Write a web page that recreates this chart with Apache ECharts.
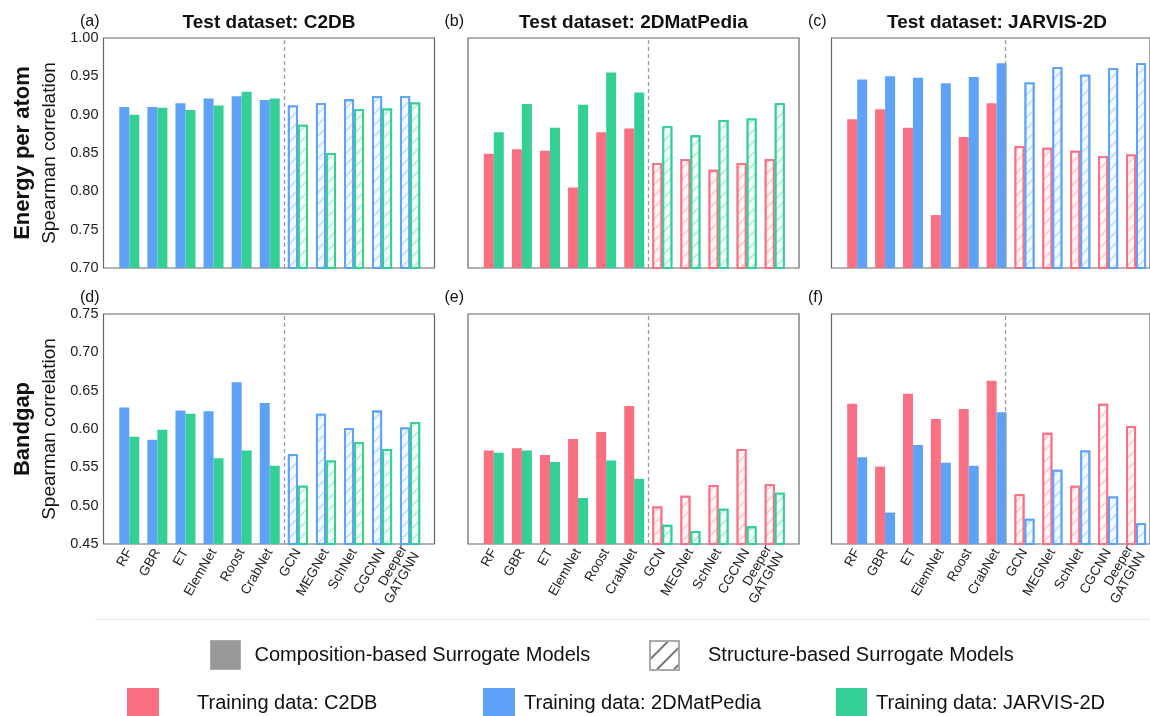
<!DOCTYPE html>
<html>
<head>
<meta charset="utf-8">
<script src="https://cdn.jsdelivr.net/npm/echarts@6/dist/echarts.min.js"></script>
<style>
    html, body { margin: 0; padding: 0; background: #fff; }
    #main { width: 1150px; height: 716px; }
</style>
</head>
<body>
<div id="main"></div>
<script>
// 模型名称
var categories = ['RF', 'GBR', 'ET', 'ElemNet', 'Roost', 'CrabNet', 'GCN', 'MEGNet', 'SchNet', 'CGCNN', 'Deeper\nGATGNN'];
var yTicksEnergy = [0.70, 1.00];
var yTicksGap = [0.45, 0.75];
// 组成模型与结构模型的分界（CrabNet 与 GCN 之间）
var dividerPos = 5.5;

// Energy per atom
var eC2dbBy2dmat = [0.910, 0.910, 0.915, 0.921, 0.924, 0.919, 0.912, 0.915, 0.920, 0.924, 0.924];
var eC2dbByJarvis = [0.900, 0.909, 0.906, 0.912, 0.930, 0.921, 0.887, 0.850, 0.907, 0.908, 0.916];
var e2dmatByC2db = [0.849, 0.855, 0.853, 0.805, 0.877, 0.882, 0.837, 0.842, 0.828, 0.837, 0.842];
var e2dmatByJarvis = [0.877, 0.914, 0.883, 0.913, 0.955, 0.929, 0.885, 0.873, 0.893, 0.895, 0.915];
var eJarvisByC2db = [0.894, 0.907, 0.883, 0.769, 0.871, 0.915, 0.859, 0.857, 0.853, 0.846, 0.848];
var eJarvisBy2dmat = [0.946, 0.950, 0.948, 0.941, 0.949, 0.967, 0.942, 0.962, 0.952, 0.961, 0.967];

// Bandgap
var gC2dbBy2dmat = [0.628, 0.586, 0.624, 0.623, 0.661, 0.634, 0.567, 0.620, 0.601, 0.624, 0.602];
var gC2dbByJarvis = [0.590, 0.599, 0.620, 0.562, 0.572, 0.552, 0.526, 0.559, 0.583, 0.574, 0.609];
var g2dmatByC2db = [0.572, 0.575, 0.566, 0.587, 0.596, 0.630, 0.499, 0.513, 0.527, 0.574, 0.528];
var g2dmatByJarvis = [0.569, 0.572, 0.557, 0.510, 0.559, 0.535, 0.475, 0.467, 0.496, 0.473, 0.517];
var gJarvisByC2db = [0.633, 0.551, 0.646, 0.613, 0.626, 0.663, 0.515, 0.595, 0.526, 0.633, 0.604];
var gJarvisBy2dmat = [0.563, 0.491, 0.579, 0.556, 0.552, 0.622, 0.483, 0.547, 0.572, 0.512, 0.477];

var colors = { 'C2DB': '#F97083', '2DMatPedia': '#5DA2F6', 'JARVIS-2D': '#33CF94' };
var fontFamily = '"Liberation Sans", Arial, sans-serif';

var panels = [
    { label: '(a)', title: 'Test dataset: C2DB', row: 0, col: 0, range: yTicksEnergy, series: [['2DMatPedia', eC2dbBy2dmat], ['JARVIS-2D', eC2dbByJarvis]] },
    { label: '(b)', title: 'Test dataset: 2DMatPedia', row: 0, col: 1, range: yTicksEnergy, series: [['C2DB', e2dmatByC2db], ['JARVIS-2D', e2dmatByJarvis]] },
    { label: '(c)', title: 'Test dataset: JARVIS-2D', row: 0, col: 2, range: yTicksEnergy, series: [['C2DB', eJarvisByC2db], ['2DMatPedia', eJarvisBy2dmat]] },
    { label: '(d)', title: '', row: 1, col: 0, range: yTicksGap, series: [['2DMatPedia', gC2dbBy2dmat], ['JARVIS-2D', gC2dbByJarvis]] },
    { label: '(e)', title: '', row: 1, col: 1, range: yTicksGap, series: [['C2DB', g2dmatByC2db], ['JARVIS-2D', g2dmatByJarvis]] },
    { label: '(f)', title: '', row: 1, col: 2, range: yTicksGap, series: [['C2DB', gJarvisByC2db], ['2DMatPedia', gJarvisBy2dmat]] }
];

var frameLeft = [103.5, 468, 831.5];
var rowTop = [38, 314];
var frameW = 331, frameH = 230;
var innerPad = 11.75, innerW = 309;
var catW = innerW / categories.length;

function hexA(hex, a) {
    var r = parseInt(hex.slice(1, 3), 16), g = parseInt(hex.slice(3, 5), 16), b = parseInt(hex.slice(5, 7), 16);
    return 'rgba(' + r + ',' + g + ',' + b + ',' + a + ')';
}

// 结构模型用斜线填充
function hatched(color, v) {
    return {
        value: v,
        itemStyle: {
            color: hexA(color, 0.06),
            borderColor: color,
            borderWidth: 1.8,
            decal: {
                symbol: 'rect',
                symbolSize: 1,
                dashArrayX: [1, 0],
                dashArrayY: [1.1, 5.5],
                rotation: -Math.PI / 4,
                color: hexA(color, 0.3)
            }
        }
    };
}

var grids = [], xAxes = [], yAxes = [], series = [], graphics = [];

panels.forEach(function(p, k) {
    var left = frameLeft[p.col], top = rowTop[p.row];
    // 外框
    grids.push({ left: left, top: top, width: frameW, height: frameH, show: true, borderColor: '#666', borderWidth: 1.2, backgroundColor: 'transparent' });
    // 数据区
    grids.push({ left: left + innerPad, top: top, width: innerW, height: frameH });

    // 外框的横轴按类别单位计，用来画分界虚线
    xAxes.push({
        gridIndex: 2 * k, type: 'value', show: false,
        min: -0.5 - innerPad / catW,
        max: categories.length - 0.5 + (frameW - innerPad - innerW) / catW
    });
    yAxes.push({
        gridIndex: 2 * k, type: 'value', min: p.range[0], max: p.range[1], interval: 0.05,
        axisLine: { show: false }, axisTick: { show: false }, splitLine: { show: false },
        axisLabel: {
            show: p.col === 0, fontSize: 14.5, color: '#222', margin: 5, fontFamily: fontFamily,
            formatter: function(v) { return v.toFixed(2); }
        }
    });

    xAxes.push({
        gridIndex: 2 * k + 1, type: 'category', data: categories,
        axisLine: { show: false }, axisTick: { show: false }, splitLine: { show: false },
        axisLabel: {
            show: p.row === 1, interval: 0, rotate: 60, fontSize: 13.5, color: '#222', margin: 6,
            fontFamily: fontFamily, lineHeight: 14
        }
    });
    yAxes.push({ gridIndex: 2 * k + 1, type: 'value', min: p.range[0], max: p.range[1], show: false });

    p.series.forEach(function(s) {
        var c = colors[s[0]];
        series.push({
            type: 'bar',
            name: 'Training data: ' + s[0],
            xAxisIndex: 2 * k + 1,
            yAxisIndex: 2 * k + 1,
            barWidth: 10,
            barGap: '0%',
            itemStyle: { color: c },
            data: s[1].map(function(v, i) { return i < 6 ? v : hatched(c, v); })
        });
    });

    series.push({
        type: 'line', xAxisIndex: 2 * k, yAxisIndex: 2 * k, data: [], silent: true,
        markLine: {
            silent: true, symbol: ['none', 'none'], animation: false,
            label: { show: false },
            lineStyle: { color: '#9a9a9a', width: 1.3, type: [4, 3] },
            data: [{ xAxis: dividerPos }]
        }
    });

    graphics.push({
        type: 'text', x: left - 23.5, y: top - 16,
        style: { text: p.label, fontSize: 16, fontFamily: fontFamily, fill: '#111', align: 'left', verticalAlign: 'middle' }
    });
    if (p.title) {
        graphics.push({
            type: 'text', x: left + frameW / 2, y: top - 15,
            style: { text: p.title, fontSize: 19, fontWeight: 'bold', fontFamily: fontFamily, fill: '#111', align: 'center', verticalAlign: 'middle' }
        });
    }
});

// 图例用的空系列
series.push({ type: 'bar', name: 'Composition-based Surrogate Models', xAxisIndex: 0, yAxisIndex: 0, data: [], itemStyle: { color: '#999' } });
series.push({ type: 'bar', name: 'Structure-based Surrogate Models', xAxisIndex: 0, yAxisIndex: 0, data: [], itemStyle: { color: '#fff', borderColor: '#aaa', borderWidth: 2 } });

// 纵轴标题
[['Energy per atom', 153], ['Bandgap', 429]].forEach(function(t) {
    graphics.push({
        type: 'text', x: 23, y: t[1], rotation: Math.PI / 2,
        style: { text: t[0], fontSize: 22, fontWeight: 'bold', fontFamily: fontFamily, fill: '#111', align: 'center', verticalAlign: 'middle' }
    });
    graphics.push({
        type: 'text', x: 50, y: t[1], rotation: Math.PI / 2,
        style: { text: 'Spearman correlation', fontSize: 19, fontFamily: fontFamily, fill: '#111', align: 'center', verticalAlign: 'middle' }
    });
});
graphics.push({ type: 'line', shape: { x1: 95, y1: 619.5, x2: 1150, y2: 619.5 }, style: { stroke: '#e4e4e4', lineWidth: 1 } });

function legendItem(name, left, top, w, h, gap, itemStyle) {
    var item = { name: name };
    if (itemStyle) item.itemStyle = itemStyle;
    return {
        data: [item], left: left, top: top, itemWidth: w, itemHeight: h, selectedMode: false,
        icon: 'rect', padding: 0,
        formatter: function(n) { return '{g|}{t|' + n + '}'; },
        textStyle: {
            rich: {
                g: { width: gap },
                t: { fontSize: 20, color: '#111', fontFamily: fontFamily }
            }
        }
    };
}

var legends = [
    legendItem('Composition-based Surrogate Models', 210, 640, 30, 29, 9, { color: '#999', borderColor: '#aaa', borderWidth: 1 }),
    legendItem('Structure-based Surrogate Models', 649, 640, 29, 29, 24, {
        color: '#fff', borderColor: '#aaa', borderWidth: 2,
        decal: { symbol: 'rect', symbolSize: 1, dashArrayX: [1, 0], dashArrayY: [1.3, 10], rotation: -Math.PI / 4, color: '#777' }
    }),
    legendItem('Training data: C2DB', 127, 688, 32, 30, 33),
    legendItem('Training data: 2DMatPedia', 483, 688, 32, 30, 4),
    legendItem('Training data: JARVIS-2D', 836, 688, 31, 30, 4)
];

var myChart = echarts.init(document.getElementById('main'));
var option = {
    animation: false,
    textStyle: { fontFamily: fontFamily },
    grid: grids,
    xAxis: xAxes,
    yAxis: yAxes,
    legend: legends,
    series: series,
    graphic: graphics
};
myChart.setOption(option);
</script>
</body>
</html>
